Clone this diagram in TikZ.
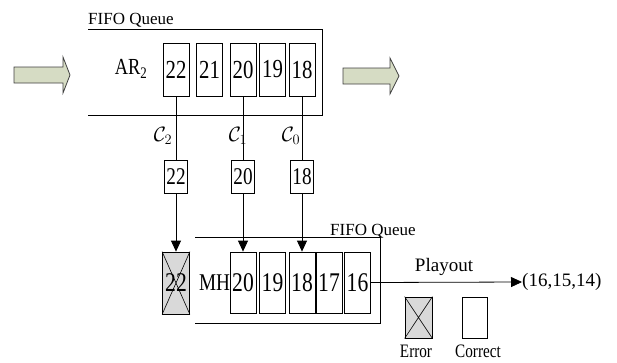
\documentclass[tikz,border=0pt]{standalone}
\usepackage{fontspec}
\setmainfont{Liberation Serif}
\newfontfamily\condfont[FakeStretch=0.8]{Liberation Serif}
\usetikzlibrary{arrows.meta}
\definecolor{arrowfill}{RGB}{214,220,196}
\definecolor{errfill}{RGB}{217,217,217}
\tikzset{
  cell/.style={draw, line width=0.8pt, inner sep=0pt, minimum width=26pt, minimum height=53pt, font=\condfont\fontsize{26}{26}\selectfont},
  lcell/.style={cell, minimum height=61pt, font=\condfont\fontsize{27}{27}\selectfont},
  sbox/.style={draw, line width=0.8pt, inner sep=0pt, minimum width=23pt, minimum height=33pt, font=\condfont\fontsize{24}{24}\selectfont},
  errbox/.style={draw, line width=0.8pt, fill=errfill, inner sep=0pt, minimum width=27pt},
  lbl/.style={inner sep=0pt},
  conn/.style={line width=0.8pt},
  arr/.style={line width=0.8pt, -{Triangle[length=11pt,width=10pt]}},
  blockarrow/.style={draw=black!75, fill=arrowfill, line width=0.8pt, line join=miter}
}
\begin{document}
\begin{tikzpicture}[x=1pt,y=-1pt]
\useasboundingbox (0,0) rectangle (617,362);
% block arrows
\draw[blockarrow] (14,67) -- (63,67) -- (63,57) -- (70,75) -- (63,93) -- (63,83) -- (14,83) -- cycle;
\draw[blockarrow] (343,68) -- (390,68) -- (390,58) -- (399,76) -- (390,94) -- (390,84) -- (343,84) -- cycle;
% top FIFO
\draw[conn] (88,29) -- (322,29) -- (322,115) -- (88,115);
\node[lbl, anchor=base west, font=\fontsize{17}{17}\selectfont] (fifo1) at (88,24) {FIFO Queue};
\node[lbl, font=\condfont\fontsize{23}{23}\selectfont] (ar) at (131,69) {AR\textsubscript{2}};
\node[cell] (t22) at (176,69.5) {22};
\node[cell] (t21) at (209.5,69.5) {21};
\node[cell] (t20) at (243,69.5) {20};
\node[cell] (t19) at (272.5,69.5) {19};
\node[cell] (t18) at (302,69.5) {18};
% labels c
\node[lbl, font=\fontsize{20}{20}\selectfont] (c2) at (163,136) {$\mathcal{C}_2$};
\node[lbl, font=\fontsize{20}{20}\selectfont] (c1) at (238,136) {$\mathcal{C}_1$};
\node[lbl, font=\fontsize{20}{20}\selectfont] (c0) at (291,136) {$\mathcal{C}_0$};
% small boxes
\node[sbox] (s22) at (176,176.5) {22};
\node[sbox] (s20) at (243,176.5) {20};
\node[sbox] (s18) at (302,176.5) {18};
% lower FIFO
\draw[conn] (195,237) -- (380,237) -- (380,323) -- (195,323);
\node[lbl, anchor=base west, font=\fontsize{17}{17}\selectfont] (fifo2) at (330,235) {FIFO Queue};
\node[errbox, minimum height=62pt, font=\condfont\fontsize{27}{27}\selectfont] (e22) at (176,283) {22};
\draw[line width=0.6pt] (e22.north west) -- (e22.south east) (e22.north east) -- (e22.south west);
\node[lbl, font=\condfont\fontsize{24}{24}\selectfont] (mh) at (214.5,283) {MH};
\node[lcell] (l20) at (243,282.5) {20};
\node[lcell] (l19) at (272.5,282.5) {19};
\node[lcell] (l18) at (302,282.5) {18};
\node[lcell] (l17) at (329,282.5) {17};
\node[lcell] (l16) at (357.5,282.5) {16};
% connectors
\draw[conn] (t22.south) -- (s22.north);
\draw[conn] (t20.south) -- (s20.north);
\draw[conn] (t18.south) -- (s18.north);
\draw[arr] (s22.south) -- (e22.north);
\draw[arr] (s20.south) -- (l20.north);
\draw[arr] (s18.south) -- (l18.north);
% playout
\node[lbl, anchor=west, font=\fontsize{19}{19}\selectfont] (out) at (522,282) {(16,15,14)};
\node[lbl, font=\fontsize{19}{19}\selectfont] (play) at (444,267) {Playout};
\draw[arr] (l16.east) -- (out.west);
% legend
\node[errbox, minimum height=41pt] (le) at (418.5,317.5) {};
\draw[line width=0.6pt] (le.north west) -- (le.south east) (le.north east) -- (le.south west);
\node[draw, line width=0.8pt, inner sep=0pt, minimum width=25pt, minimum height=41pt] (lc) at (474.5,317.5) {};
\node[lbl, font=\condfont\fontsize{19}{19}\selectfont] (errl) at (416,351) {Error};
\node[lbl, font=\condfont\fontsize{19}{19}\selectfont] (corl) at (478,351) {Correct};
\end{tikzpicture}
\end{document}
